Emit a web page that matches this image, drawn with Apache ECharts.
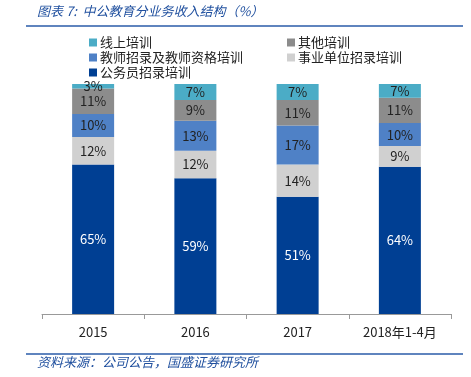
<!DOCTYPE html>
<html><head><meta charset="utf-8">
<script src="https://cdn.jsdelivr.net/npm/echarts@6/dist/echarts.min.js"></script>
<style>html,body{margin:0;padding:0;background:#fff}#c{width:471px;height:377px}</style>
</head><body><div id="c"></div>
<script>
var categories = ['2015', '2016', '2017', '2018年1-4月'];
var gwy = [65, 59, 51, 64];
var sydw = [12, 12, 14, 9];
var jiaoshi = [10, 13, 17, 10];
var qita = [11, 9, 11, 11];
var xianshang = [3, 7, 7, 7];
var names = ['公务员招录培训', '事业单位招录培训', '教师招录及教师资格培训', '其他培训', '线上培训'];
var colors = ['#003f93', '#d0d0d0', '#4f81c6', '#8c8c8c', '#4bacc6'];
var values = [gwy, sydw, jiaoshi, qita, xianshang];

var font = '"Noto Sans CJK SC", sans-serif';
var series = names.map(function (n, i) {
  return {
    name: n, type: 'bar', stack: 'a', barWidth: 42,
    data: values[i],
    itemStyle: { color: colors[i] },
    label: { show: true, position: 'inside', formatter: '{c}%', fontSize: 13, fontFamily: font,
      color: i === 0 ? '#fff' : '#222' }
  };
});
var legendPos = [
  { name: '线上培训', left: 89, top: 36 },
  { name: '其他培训', left: 287, top: 36 },
  { name: '教师招录及教师资格培训', left: 89, top: 51 },
  { name: '事业单位招录培训', left: 287, top: 51 },
  { name: '公务员招录培训', left: 89, top: 66 }
];
var legends = legendPos.map(function (p) {
  return { data: [p.name], left: p.left, top: p.top, itemWidth: 8, itemHeight: 8, itemGap: 4,
    icon: 'rect', textStyle: { fontSize: 13, fontFamily: font, color: '#222', padding: [0, 0, 0, -2] }, padding: 0 };
});
var chart = echarts.init(document.getElementById('c'));
chart.setOption({
  animation: false,
  legend: legends,
  grid: { left: 42, right: 20, top: 84, bottom: 63 },
  xAxis: { type: 'category', data: categories,
    axisLine: { lineStyle: { color: '#999' } },
    axisTick: { show: true, length: 5, lineStyle: { color: '#999' } },
    axisLabel: { fontSize: 13, color: '#222', fontFamily: font, margin: 12 } },
  yAxis: { type: 'value', min: 0, max: 100, show: false },
  series: series,
  graphic: [
    { type: 'text', left: 37, top: 5, style: { text: '图表 7:  中公教育分业务收入结构（%）', fontSize: 13, fontStyle: 'italic',
      fontFamily: font, fill: '#1f4f9e' } },
    { type: 'line', shape: { x1: 26, y1: 26, x2: 463, y2: 26 }, style: { stroke: '#2a5ba8', lineWidth: 1.5 } },
    { type: 'line', shape: { x1: 26, y1: 354, x2: 463, y2: 354 }, style: { stroke: '#2a5ba8', lineWidth: 1.5 } },
    { type: 'text', left: 37, top: 356, style: { text: '资料来源：公司公告，国盛证券研究所', fontSize: 13, fontStyle: 'italic',
      fontFamily: font, fill: '#1f4f9e' } }
  ]
});
</script></body></html>
